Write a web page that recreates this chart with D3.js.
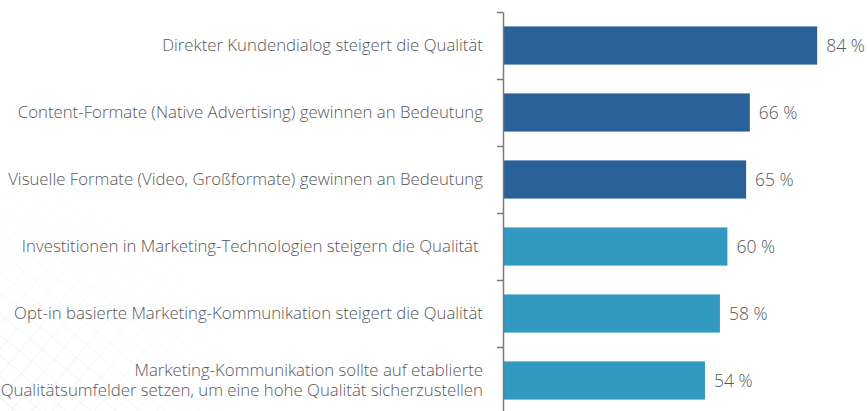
<!DOCTYPE html>
<html>
<head>
<meta charset="utf-8">
<script src="https://cdn.jsdelivr.net/npm/d3@7"></script>
<style>
  html, body { margin: 0; padding: 0; background: #fff; }
  svg { display: block; }
  text { font-family: "Open Sans", "Noto Sans", sans-serif; font-weight: 300; fill: #585858; }
</style>
</head>
<body>
<svg id="chart" width="868" height="411"></svg>
<script>
// Survey statements (each entry is a list of text lines)
const statements = [
  ["Direkter Kundendialog steigert die Qualität"],
  ["Content-Formate (Native Advertising) gewinnen an Bedeutung"],
  ["Visuelle Formate (Video, Großformate) gewinnen an Bedeutung"],
  ["Investitionen in Marketing-Technologien steigern die Qualität "],
  ["Opt-in basierte Marketing-Kommunikation steigert die Qualität"],
  ["Marketing-Kommunikation sollte auf etablierte", "Qualitätsumfelder setzen, um eine hohe Qualität sicherzustellen"]
];
// Share of agreement in percent
const shares = [84, 66, 65, 60, 58, 54];
// Statement group: first three vs. last three
const groups = ["a", "a", "a", "b", "b", "b"];

const svg = d3.select("#chart");
const W = 868, H = 411;
const axisX = 503, yTop = 12, yBottom = 414;
const fs = 16.8;

// Faint mesh texture in the lower-left corner
const defs = svg.append("defs");
const pat = defs.append("pattern")
  .attr("id", "mesh").attr("patternUnits", "userSpaceOnUse")
  .attr("width", 16).attr("height", 16)
  .attr("patternTransform", "rotate(40)");
pat.append("line").attr("x1", 0).attr("y1", 0).attr("x2", 0).attr("y2", 16)
  .attr("stroke", "#b9cfe2").attr("stroke-width", 1);
pat.append("line").attr("x1", 0).attr("y1", 0).attr("x2", 16).attr("y2", 0)
  .attr("stroke", "#b9cfe2").attr("stroke-width", 1);
const grad = defs.append("radialGradient").attr("id", "fade")
  .attr("gradientUnits", "userSpaceOnUse")
  .attr("cx", 0).attr("cy", 430).attr("r", 260);
grad.append("stop").attr("offset", "0%").attr("stop-color", "#fff").attr("stop-opacity", 0.9);
grad.append("stop").attr("offset", "100%").attr("stop-color", "#fff").attr("stop-opacity", 0);
defs.append("mask").attr("id", "meshMask")
  .append("rect").attr("width", W).attr("height", H).attr("fill", "url(#fade)");
svg.append("rect").attr("width", W).attr("height", H)
  .attr("fill", "url(#mesh)").attr("mask", "url(#meshMask)").attr("opacity", 0.55);

const idx = d3.range(statements.length);
const y = d3.scaleBand().domain(idx).range([yTop, yBottom])
  .paddingInner(0.43).paddingOuter(0.215);
const x = d3.scaleLinear().domain([0, 100]).range([axisX, axisX + 374]);
const color = d3.scaleOrdinal().domain(["a", "b"]).range(["#2a6199", "#3299c0"]);

// Bars
svg.append("g").selectAll("rect").data(idx).join("rect")
  .attr("x", x(0))
  .attr("y", i => y(i))
  .attr("width", i => x(shares[i]) - x(0))
  .attr("height", y.bandwidth())
  .attr("fill", i => color(groups[i]));

// Value labels
svg.append("g").selectAll("text").data(idx).join("text")
  .attr("x", i => x(shares[i]) + 9)
  .attr("y", i => y(i) + y.bandwidth() / 2)
  .attr("dy", "0.35em")
  .attr("font-size", 17.5)
  .text(i => shares[i] + " %");

// Category labels
const lineH = 20;
svg.append("g").selectAll("text").data(idx).join("text")
  .attr("text-anchor", "end")
  .attr("font-size", fs)
  .style("white-space", "pre")
  .attr("y", i => y(i) + y.bandwidth() / 2)
  .each(function (i) {
    const lines = statements[i];
    const t = d3.select(this);
    lines.forEach((ln, k) => {
      t.append("tspan")
        .attr("x", axisX - 20)
        .attr("dy", k === 0 ? ((0.35 * fs) - (lines.length - 1) * lineH / 2) + "px" : lineH + "px")
        .text(ln);
    });
  });

// Vertical axis with separators between categories
const sep = d3.scaleLinear().domain([0, statements.length]).range([yTop, yBottom]);
const ax = svg.append("g").attr("transform", `translate(${axisX},0)`)
  .call(d3.axisLeft(sep).tickValues(d3.range(statements.length + 1)).tickFormat("").tickSize(6).tickSizeOuter(0));
ax.selectAll("path, line").attr("stroke", "#7a7a7a").attr("stroke-width", 1.5);
</script>
</body>
</html>
